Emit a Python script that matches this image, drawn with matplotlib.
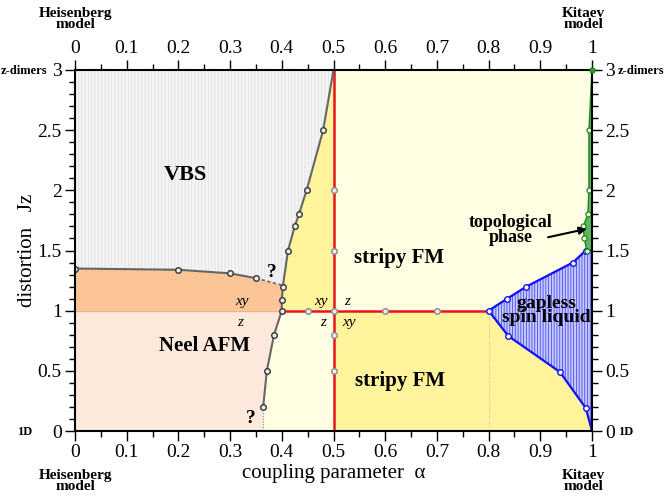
import matplotlib
matplotlib.use("Agg")
import matplotlib.pyplot as plt
from matplotlib.patches import Polygon
import numpy as np

plt.rcParams['font.family'] = ['Liberation Serif', 'DejaVu Serif']
plt.rcParams['hatch.linewidth'] = 0.6

# ---- data ----
# VBS / Neel (xy) boundary
vbs_neel_x = [0.0, 0.2, 0.3, 0.35]
vbs_neel_y = [1.35, 1.34, 1.31, 1.27]
dash_end = (0.402, 1.21)
# left phase boundary (gray line), top to bottom
gray_x = [0.5, 0.48, 0.448, 0.433, 0.425, 0.412, 0.402, 0.40, 0.40, 0.385, 0.371, 0.364]
gray_y = [3.0, 2.5, 2.0, 1.8, 1.7, 1.5, 1.2, 1.09, 1.0, 0.8, 0.5, 0.2]
gray_marker_idx = [1, 2, 3, 4, 5, 6, 7, 8, 9, 10, 11]
# red line markers
red_v_y = [2.0, 1.5, 1.0, 0.8, 0.5]
red_h_x = [0.45, 0.6, 0.7]
# gapless spin liquid boundary
sl_up_x = [0.8, 0.836, 0.873, 0.963, 0.988]
sl_up_y = [1.0, 1.1, 1.2, 1.4, 1.5]
sl_lo_x = [0.8, 0.838, 0.938, 0.988]
sl_lo_y = [1.0, 0.79, 0.49, 0.19]
# topological phase boundary
topo_x = [1.0, 0.994, 0.994, 0.992, 0.983, 0.985, 0.99]
topo_y = [3.0, 2.5, 2.0, 1.8, 1.7, 1.6, 1.5]

xticks = [0, 0.1, 0.2, 0.3, 0.4, 0.5, 0.6, 0.7, 0.8, 0.9, 1]
xticklabels = ['0', '0.1', '0.2', '0.3', '0.4', '0.5', '0.6', '0.7', '0.8', '0.9', '1']
yticks = [0, 0.5, 1, 1.5, 2, 2.5, 3]
yticklabels = ['0', '0.5', '1', '1.5', '2', '2.5', '3']

# ---- colors ----
c_vbs = '#f4f4f4'
c_orange = '#fbc597'
c_peach = '#fde9dc'
c_yellow = '#fff39c'
c_lyellow = '#fffde2'
c_gray = '#666666'
c_red = '#e8141c'

fig = plt.figure(figsize=(6.64, 4.97), dpi=100)
ax = fig.add_axes([75/664, 1-431/497, (592-75)/664, (431-70)/497])
ax.set_xlim(0, 1)
ax.set_ylim(0, 3)

gx = np.array(gray_x); gy = np.array(gray_y)

def poly(pts, **kw):
    p = Polygon(pts, closed=True, **kw)
    ax.add_patch(p)
    return p

# light yellow upper right
poly([(0.5, 1), (1, 1), (1, 3), (0.5, 3)], facecolor=c_lyellow, edgecolor='none', zorder=1)
# yellow lower right
poly([(0.5, 0), (1, 0), (1, 1), (0.5, 1)], facecolor=c_yellow, edgecolor='none', zorder=1)
# yellow between gray line and 0.5 above y=1
upper = [(x, y) for x, y in zip(gx, gy) if y >= 1.0]
poly(upper + [(0.5, 1.0), (0.5, 3.0)], facecolor=c_yellow, edgecolor='none', zorder=1)
# light yellow between gray line and 0.5 below y=1
lower = [(x, y) for x, y in zip(gx, gy) if y <= 1.0]
poly(lower + [(0.364, 0.0), (0.5, 0.0), (0.5, 1.0)], facecolor=c_lyellow, edgecolor='none', zorder=1)
# Neel z (peach)
poly([(0, 0), (0.364, 0)] + lower[::-1] + [(0, 1)], facecolor=c_peach, edgecolor='none', zorder=1)
# Neel xy (orange)
gr_mid = [(x, y) for x, y in zip(gx, gy) if 1.0 <= y <= 1.2]
poly([(0, 1)] + gr_mid[::-1] + [dash_end] + list(zip(vbs_neel_x, vbs_neel_y))[::-1],
     facecolor=c_orange, edgecolor='none', zorder=1)
ax.plot([0, 0.4], [1, 1], color='#f5b07a', lw=1.0, zorder=2)
# VBS
vbs_right = [(x, y) for x, y in zip(gx, gy) if y >= 1.21]
poly([(0, 3)] + vbs_right + [dash_end] + list(zip(vbs_neel_x, vbs_neel_y))[::-1],
     facecolor=c_vbs, edgecolor='#e2e2e2', hatch='|||||', lw=0, zorder=1)

# spin liquid
sl_pts = list(zip(sl_up_x, sl_up_y)) + [(1.0, 1.5), (1.0, 0.0)] + list(zip(sl_lo_x, sl_lo_y))[::-1]
poly(sl_pts, facecolor='#c6caf8', edgecolor='#4a4aff', hatch='||||||', lw=0, zorder=2)
ax.plot(sl_up_x + [1.0], sl_up_y + [1.5], color='#1010ff', lw=1.6, zorder=4)
ax.plot(sl_lo_x + [1.0], sl_lo_y + [0.0], color='#1010ff', lw=1.6, zorder=4)
ax.plot(sl_up_x[1:] + sl_lo_x[1:], sl_up_y[1:] + sl_lo_y[1:], ls='none', marker='o', ms=4,
        mfc='white', mec='#1010ff', mew=1.0, zorder=6)
ax.plot([0.8], [1.0], ls='none', marker='o', ms=4, mfc='white', mec='#1010ff', mew=1.0, zorder=7)
ax.plot([0.8, 0.8], [0, 1], color='#bbbbbb', lw=0.7, ls=(0, (1, 1.5)), zorder=3)

# topological phase
poly(list(zip(topo_x, topo_y)) + [(1.0, 1.5)], facecolor='#5cb85c', edgecolor='#1a8a1a', lw=1.0, zorder=3)
ax.plot(topo_x[1:], topo_y[1:], ls='none', marker='o', ms=3.6, mfc='white', mec='#1a8a1a', mew=0.9, zorder=6)
ax.plot([1.0], [3.0], ls='none', marker='o', ms=3.6, mfc='#2e9e2e', mec='#1a8a1a', zorder=11, clip_on=False)

# red lines
ax.plot([0.5, 0.5], [0, 3], color=c_red, lw=1.8, zorder=4)
ax.plot([0.4, 0.8], [1, 1], color=c_red, lw=1.8, zorder=4)
ax.plot([0.5] * len(red_v_y), red_v_y, ls='none', marker='o', ms=4, mfc='#eeeeee', mec='#888888', mew=1.0, zorder=6)
ax.plot(red_h_x, [1.0] * len(red_h_x), ls='none', marker='o', ms=4, mfc='#eeeeee', mec='#888888', mew=1.0, zorder=6)

# gray boundary
ax.plot(gx, gy, color=c_gray, lw=1.5, zorder=5)
ax.plot(gx[gray_marker_idx], gy[gray_marker_idx], ls='none', marker='o', ms=4,
        mfc='#eeeeee', mec='#333333', mew=1.0, zorder=6)
ax.plot([gx[-1], gx[-1]], [gy[-1], 0], color='#888888', lw=0.8, ls=(0, (1, 1.5)), zorder=5)
# VBS/Neel boundary
ax.plot(vbs_neel_x, vbs_neel_y, color=c_gray, lw=1.5, zorder=5)
ax.plot(vbs_neel_x, vbs_neel_y, ls='none', marker='o', ms=4, mfc='#eeeeee', mec='#333333', mew=1.0, zorder=6)
ax.plot([vbs_neel_x[-1], dash_end[0]], [vbs_neel_y[-1], dash_end[1]], color=c_gray, lw=1.2, ls=(0, (2, 1.5)), zorder=5)

# labels in the plot
bold = dict(fontweight='bold', ha='center', va='center')
ax.text(0.213, 2.13, 'VBS', fontsize=16, **bold, zorder=9)
ax.text(0.25, 0.71, 'Neel AFM', fontsize=15, **bold, zorder=9)
ax.text(0.627, 1.44, 'stripy FM', fontsize=15, **bold, zorder=9)
ax.text(0.629, 0.415, 'stripy FM', fontsize=15, **bold, zorder=9)
ax.text(0.911, 1.0, 'gapless\nspin liquid', fontsize=14, linespacing=0.8, **bold, zorder=9)
ax.text(0.843, 1.67, 'topological\nphase', fontsize=13, linespacing=0.85, **bold, zorder=9)
ax.annotate('', xy=(0.99, 1.68), xytext=(0.915, 1.61),
            arrowprops=dict(arrowstyle='-|>', color='black', lw=1.5, mutation_scale=11,
                            shrinkA=0, shrinkB=0), zorder=9)
ax.text(0.38, 1.32, '?', fontsize=14, **bold, zorder=9)
ax.text(0.34, 0.10, '?', fontsize=14, **bold, zorder=9)
it = dict(fontstyle='italic', ha='center', va='center', fontsize=11, zorder=9)
ax.text(0.323, 1.08, 'xy', **it)
ax.text(0.32, 0.905, 'z', **it)
ax.text(0.476, 1.08, 'xy', **it)
ax.text(0.48, 0.905, 'z', **it)
ax.text(0.526, 1.08, 'z', **it)
ax.text(0.53, 0.905, 'xy', **it)

# axes, ticks
ax.set_xticks(xticks)
ax.set_xticklabels(xticklabels)
ax.set_yticks(yticks)
ax.set_yticklabels(yticklabels)
ax.set_xticks(np.arange(0.05, 1.0, 0.1), minor=True)
ax.set_yticks(np.arange(0, 3.01, 0.1), minor=True)
ax.tick_params(which='both', direction='out', top=True, right=True,
               labeltop=True, labelright=True, labelsize=14, width=1.0, pad=2.5)
ax.tick_params(which='major', length=7)
ax.tick_params(which='minor', length=4)
for s in ax.spines.values():
    s.set_linewidth(1.5)
    s.set_zorder(10)
ax.set_xlabel('coupling parameter  α', fontsize=15, labelpad=2)
ax.set_ylabel('distortion   Jz', fontsize=15, labelpad=0.5)

sm = dict(fontweight='bold', va='center')
for yy in (19, 481):
    fig.text(76/664, 1-yy/497, 'Heisenberg\nmodel', ha='center', linespacing=0.85, fontsize=11, **sm)
    fig.text(583/664, 1-yy/497, 'Kitaev\nmodel', ha='center', linespacing=0.85, fontsize=11, **sm)
fig.text(47/664, 1-71/497, 'z-dimers', ha='right', fontsize=9, **sm)
fig.text(618/664, 1-71/497, 'z-dimers', ha='left', fontsize=9, **sm)
fig.text(32/664, 1-432/497, '1D', ha='right', fontsize=9, **sm)
fig.text(618/664, 1-432/497, '1D', ha='left', fontsize=9, **sm)

fig.savefig('out.png', dpi=100)
